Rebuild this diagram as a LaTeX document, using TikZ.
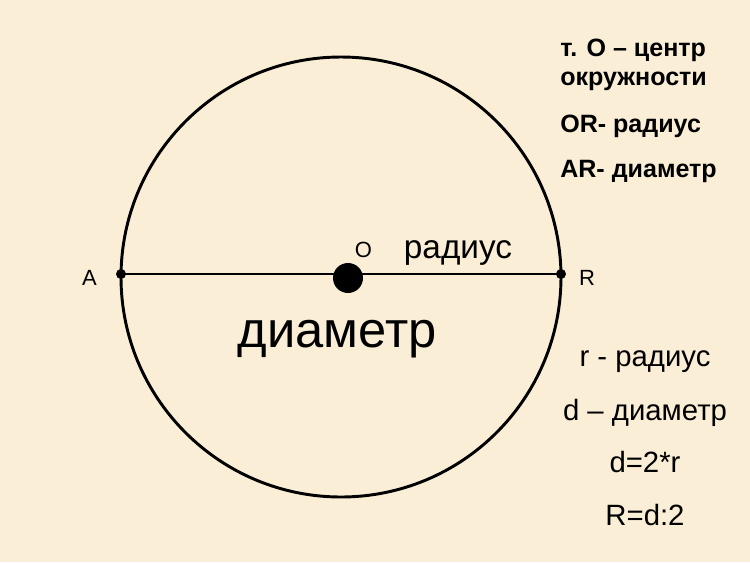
\documentclass[tikz,border=0pt]{standalone}
\usepackage{fontspec}
\setmainfont{Liberation Sans}
\definecolor{parch}{RGB}{250,239,214}
\begin{document}
\begin{tikzpicture}[x=0.75pt,y=-0.75pt,
  lbl/.style={inner sep=0pt,anchor=base},
  dotn/.style={circle,fill=black,inner sep=0pt}]
\fill[parch] (0,0) rectangle (750,562);
\useasboundingbox (0,0) rectangle (750,562);
\draw[line width=2.2pt] (341,277) circle (220);
\node[dotn,minimum size=7.5pt] (A) at (121,274) {};
\node[dotn,minimum size=7.5pt] (R) at (561,274) {};
\node[dotn,minimum size=22.5pt] (O) at (348,278) {};
\draw[line width=1.5pt] (A.center) -- (R.center);
\node[lbl,font=\fontsize{16.5}{18}\selectfont] (tA) at (89.5,285) {A};
\node[lbl,font=\fontsize{16.5}{18}\selectfont] (tR) at (587,285) {R};
\node[lbl,font=\fontsize{16.5}{18}\selectfont] (tO) at (363.5,257) {O};
\node[lbl,font=\fontsize{25}{28}\selectfont] (trad) at (458,258) {радиус};
\node[lbl,font=\fontsize{38}{42}\selectfont] (tdiam) at (337,347) {диаметр};
\node[lbl,anchor=base west,font=\fontsize{18.8}{20}\bfseries\selectfont] (t1) at (560,56) {т. О – центр};
\node[lbl,anchor=base west,font=\fontsize{18.8}{20}\bfseries\selectfont] (t2) at (560,85) {окружности};
\node[lbl,anchor=base west,font=\fontsize{18.8}{20}\bfseries\selectfont] (t3) at (560,132) {OR- радиус};
\node[lbl,anchor=base west,font=\fontsize{18.8}{20}\bfseries\selectfont] (t4) at (560,177) {AR- диаметр};
\node[lbl,font=\fontsize{22}{24}\selectfont] (r1) at (645,366) {r - радиус};
\node[lbl,font=\fontsize{22}{24}\selectfont] (r2) at (645,420) {d – диаметр};
\node[lbl,font=\fontsize{22}{24}\selectfont] (r3) at (645,472) {d=2*r};
\node[lbl,font=\fontsize{22}{24}\selectfont] (r4) at (645,525) {R=d:2};
\end{tikzpicture}
\end{document}
